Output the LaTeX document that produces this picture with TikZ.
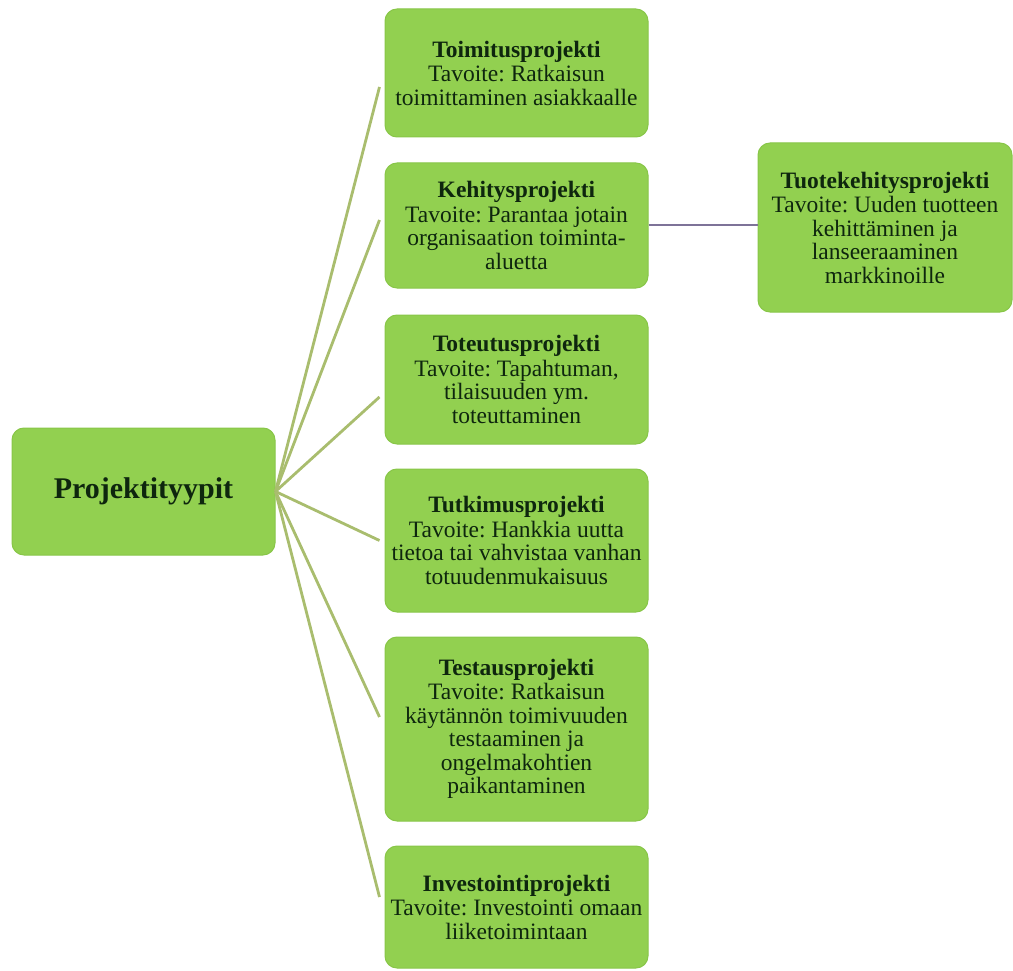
\documentclass[tikz,border=0pt]{standalone}
\usepackage{fontspec}
\setmainfont{Liberation Serif}
\frenchspacing
\usetikzlibrary{positioning, calc}
\definecolor{boxGreen}{HTML}{92D050}
\definecolor{edgeGreen}{HTML}{88C648}
\definecolor{lineOlive}{HTML}{A9BD6E}
\definecolor{linePurple}{HTML}{7E7398}
\definecolor{txtGreen}{HTML}{0E260E}
\tikzset{
    boxP/.style={
        rectangle, rounded corners=12pt, fill=boxGreen, draw=edgeGreen, line width=1pt,
        text=txtGreen, minimum width=263pt, align=center, inner sep=0pt,
        font=\fontsize{23.5}{23.5}\selectfont,
        execute at begin node={\lineskiplimit=-30pt}
    },
    rootB/.style={
        boxP, font=\bfseries\fontsize{30}{32}\selectfont
    },
    lineG/.style={draw=lineOlive, line width=2.8pt},
    lineV/.style={draw=linePurple, line width=2pt}
}
\newcommand{\ptitle}[1]{{\bfseries\fontsize{23.5}{23.5}\selectfont #1}\\[1pt]}

\begin{document}
\begin{tikzpicture}[x=1pt, y=-1pt]
    \useasboundingbox (0,0) rectangle (1013,971);
    % root
    \node[rootB, minimum height=127pt] (tyypit) at (143.5,491.5) {Projektityypit};
    % project types
    \node[boxP, minimum height=128pt] (p1) at (516.5,73)
        {\ptitle{Toimitusprojekti}Tavoite: Ratkaisun\\toimittaminen asiakkaalle};
    \node[boxP, minimum height=125pt] (p2) at (516.5,225.5)
        {\ptitle{Kehitysprojekti}Tavoite: Parantaa jotain\\organisaation toiminta-\\aluetta};
    \node[boxP, minimum height=129pt] (p3) at (516.5,379.5)
        {\ptitle{Toteutusprojekti}Tavoite: Tapahtuman,\\tilaisuuden ym.\\toteuttaminen};
    \node[boxP, minimum height=143pt] (p4) at (516.5,540.5)
        {\ptitle{Tutkimusprojekti}Tavoite: Hankkia uutta\\tietoa tai vahvistaa vanhan\\totuudenmukaisuus};
    \node[boxP, minimum height=184pt] (p5) at (516.5,729)
        {\ptitle{Testausprojekti}Tavoite: Ratkaisun\\käytännön toimivuuden\\testaaminen ja\\ongelmakohtien\\paikantaminen};
    \node[boxP, minimum height=122pt] (p6) at (516.5,907)
        {\ptitle{Investointiprojekti}Tavoite: Investointi omaan\\liiketoimintaan};
    % sub type
    \node[boxP, minimum width=254pt, minimum height=169pt] (tuote) at (885,227.5)
        {\ptitle{Tuotekehitysprojekti}Tavoite: Uuden tuotteen\\kehittäminen ja\\lanseeraaminen\\markkinoille};
    % connectors
    \foreach \n/\dy in {p1/-14, p2/5.5, p3/-17.5, p4/0, p5/12, p6/10}{
    \draw[lineG] (tyypit.east) -- ([xshift=-5pt, yshift=\dy pt]\n.west);}
    \draw[lineV] (p2.east) -- (p2.east -| tuote.west);
\end{tikzpicture}
\end{document}
